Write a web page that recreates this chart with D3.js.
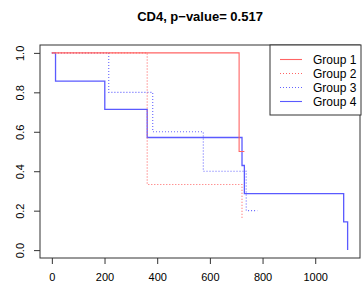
<!DOCTYPE html>
<html>
<head>
<meta charset="utf-8">
<script src="https://cdn.jsdelivr.net/npm/d3@7"></script>
<style>
  body { margin: 0; background: #fff; }
  text { font-family: "Liberation Sans", Arial, sans-serif; }
</style>
</head>
<body>
<div id="chart"></div>
<script>
const width = 364, height = 291;
const margin = {top: 45, right: 4, bottom: 33, left: 40};

// step curves: [time, survival]
const group1 = [[0, 1], [711, 1], [711, 0.5], [731, 0.5]];
const group2 = [[0, 1], [362, 1], [362, 0.333], [722, 0.333], [722, 0.167], [724, 0.167]];
const group3 = [[0, 1], [216, 1], [216, 0.8], [383, 0.8], [383, 0.6], [575, 0.6], [575, 0.4], [738, 0.4], [738, 0.2], [780, 0.2]];
const group4 = [[0, 1], [14, 1], [14, 0.857], [201, 0.857], [201, 0.714], [362, 0.714], [362, 0.571],
                [722, 0.571], [722, 0.429], [731, 0.429], [731, 0.286], [1108, 0.286], [1108, 0.143],
                [1123, 0.143], [1123, 0]];

const groupNames = ["Group 1", "Group 2", "Group 3", "Group 4"];
const groupColors = ["#ff6464", "#ff6464", "#6464ff", "#5a5aff"];
const groupDash = [null, "1,2", "1,2", null];
const xTicks = [0, 200, 400, 600, 800, 1000];
const yTicks = [0, 0.2, 0.4, 0.6, 0.8, 1.0];

const svg = d3.select("#chart").append("svg")
    .attr("width", width).attr("height", height);

const x = d3.scaleLinear().domain([-45, 1170]).range([margin.left, width - margin.right]);
const y = d3.scaleLinear().domain([-0.04, 1.04]).range([height - margin.bottom, margin.top]);

svg.append("text")
    .attr("x", (margin.left + width - margin.right) / 2)
    .attr("y", 21)
    .attr("text-anchor", "middle")
    .attr("font-size", 13)
    .attr("font-weight", "bold")
    .text("CD4, p\u2212value= 0.517");

const line = d3.line().x(d => x(d[0])).y(d => y(d[1]));
const groups = [group1, group2, group3, group4];

// draw group 4 first so group 1 sits on top
[3, 2, 1, 0].forEach(i => {
    svg.append("path")
        .attr("d", line(groups[i]))
        .attr("fill", "none")
        .attr("stroke", groupColors[i])
        .attr("stroke-width", i == 3 ? 1.3 : 1.1)
        .attr("stroke-dasharray", groupDash[i]);
});

// axes
svg.append("g")
    .attr("transform", `translate(0,${height - margin.bottom})`)
    .call(d3.axisBottom(x).tickValues(xTicks).tickSize(6).tickPadding(9).tickFormat(d3.format("d")))
    .call(g => g.select(".domain").remove())
    .call(g => g.selectAll("text").attr("font-size", 11).attr("fill", "#000").attr("font-family", "Liberation Sans, Arial, sans-serif"))
    .call(g => g.selectAll("line").attr("stroke", "#333"));

const yAxis = svg.append("g")
    .attr("transform", `translate(${margin.left},0)`)
    .call(d3.axisLeft(y).tickValues(yTicks).tickSize(6).tickFormat(d3.format(".1f")))
    .call(g => g.select(".domain").remove())
    .call(g => g.selectAll("line").attr("stroke", "#333"));
yAxis.selectAll("text")
    .attr("font-size", 11).attr("fill", "#000")
    .attr("font-family", "Liberation Sans, Arial, sans-serif")
    .attr("x", null).attr("dy", null)
    .attr("text-anchor", "middle")
    .attr("transform", "translate(-16,0) rotate(-90)");

svg.append("rect")
    .attr("x", margin.left).attr("y", margin.top)
    .attr("width", width - margin.right - margin.left)
    .attr("height", height - margin.bottom - margin.top)
    .attr("fill", "none").attr("stroke", "#333");

// legend
const legend = svg.append("g").attr("transform", "translate(270,45)");
legend.append("rect")
    .attr("width", 91).attr("height", 70)
    .attr("fill", "#fff").attr("stroke", "#333");
groupNames.forEach((name, i) => {
    const ly = 14.5 + i * 14;
    legend.append("line")
        .attr("x1", 10).attr("x2", 32).attr("y1", ly).attr("y2", ly)
        .attr("stroke", groupColors[i]).attr("stroke-width", 1.1)
        .attr("stroke-dasharray", groupDash[i]);
    legend.append("text")
        .attr("x", 43).attr("y", ly + 4.5)
        .attr("font-size", 12)
        .text(name);
});
</script>
</body>
</html>
